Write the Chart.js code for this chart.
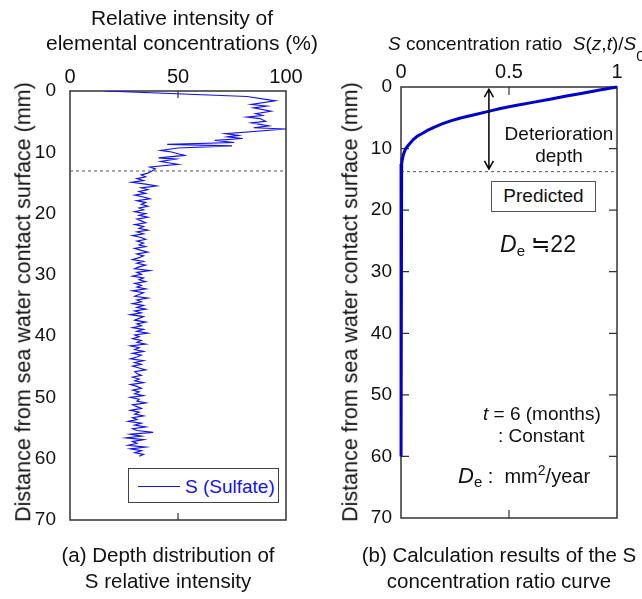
<!DOCTYPE html>
<html>
<head>
<meta charset="utf-8">
<script src="https://cdn.jsdelivr.net/npm/chart.js@4.4.0/dist/chart.umd.min.js"></script>
<style>
body { margin: 0; background: #fff; }
#wrap { position: relative; width: 642px; height: 599px; overflow: hidden;
  font-family: 'Liberation Sans', Arial, sans-serif; color: #111; }
canvas { position: absolute; top: 0; }
.t { position: absolute; line-height: 1; white-space: nowrap; }
.c { transform: translateX(-50%); }
.rot { transform: translate(-50%, -50%) rotate(-90deg); }
</style>
</head>
<body>
<div id="wrap">
  <canvas id="chartA" width="321" height="599" style="left:0"></canvas>
  <canvas id="chartB" width="321" height="599" style="left:321px"></canvas>

  <div class="t c" style="left:182px;top:7px;font-size:21px">Relative intensity of</div>
  <div class="t c" style="left:182px;top:32px;font-size:21px">elemental concentrations (%)</div>
  <div class="t" style="left:388px;top:34px;font-size:19px"><i>S</i> concentration ratio&nbsp;&nbsp;<i>S</i>(<i>z</i>,<i>t</i>)/<i>S</i><span style="font-size:15px;position:relative;top:11px">0</span></div>

  <div class="t rot" style="left:24px;top:302px;font-size:21.5px">Distance from sea water contact surface (mm)</div>
  <div class="t rot" style="left:351px;top:302px;font-size:21.5px">Distance from sea water contact surface (mm)</div>

  <div style="position:absolute;left:128px;top:468px;width:151px;height:35px;box-sizing:border-box;border:1.5px solid #444;background:#fff">
    <div style="position:absolute;left:9px;top:17px;width:42px;height:1.2px;background:#1414f0"></div>
    <div class="t" style="left:56px;top:8px;font-size:19px;color:#1414f0">S (Sulfate)</div>
  </div>

  <div class="t c" style="left:559px;top:124px;font-size:19px">Deterioration</div>
  <div class="t c" style="left:559px;top:146px;font-size:19px">depth</div>
  <div style="position:absolute;left:491px;top:181px;width:105px;height:31px;box-sizing:border-box;border:1.5px solid #555;background:#fff;font-size:19px;line-height:28px;text-align:center">Predicted</div>
  <div class="t" style="left:500px;top:233px;font-size:23px"><i>D</i><span style="font-size:15px;position:relative;top:4px">e</span> ≒22</div>
  <div class="t" style="left:483px;top:404px;font-size:19px"><i>t</i> = 6 (months)</div>
  <div class="t" style="left:498px;top:426px;font-size:19px">: Constant</div>
  <div class="t" style="left:458px;top:463px;font-size:22px"><i>D</i><span style="font-size:15px;position:relative;top:4px">e</span><span style="font-size:20px"> :&nbsp; mm<sup style="font-size:14px">2</sup>/year</span></div>

  <div class="t c" style="left:168px;top:545px;font-size:20.5px">(a) Depth distribution of</div>
  <div class="t c" style="left:168px;top:571px;font-size:20.5px">S relative intensity</div>
  <div class="t c" style="left:499px;top:545px;font-size:20.5px">(b) Calculation results of the S</div>
  <div class="t c" style="left:499px;top:571px;font-size:20.5px">concentration ratio curve</div>
</div>

<script>
// measured S intensity (%) against depth (mm)
var depthS = [
  0, 0.9, 1.6, 2.2, 2.45, 2.75, 3.3, 3.7, 4.0, 4.25, 4.5, 4.95, 5.2, 5.7, 6.0, 6.2,
  6.95, 7.25, 7.5, 7.75, 8.05, 8.4, 8.7, 8.95, 9.3, 9.7, 9.95, 10.5, 10.9, 11.1, 11.5, 11.95, 12.4, 12.7, 13.1,
  13.4, 13.7, 14.0, 14.3, 14.6, 14.9, 15.2, 15.5, 15.8, 16.1,
  16.4, 16.7, 17.0, 17.3, 17.6, 17.9, 18.2, 18.5, 18.8, 19.1,
  19.4, 19.7, 20.0, 20.3, 20.6, 20.9, 21.2, 21.5, 21.8, 22.1,
  22.4, 22.7, 23.0, 23.3, 23.6, 23.9, 24.2, 24.5, 24.8, 25.1,
  25.4, 25.7, 26.0, 26.3, 26.6, 26.9, 27.2, 27.5, 27.8, 28.1,
  28.4, 28.7, 29.0, 29.3, 29.6, 29.9, 30.2, 30.5, 30.8, 31.1,
  31.4, 31.7, 32.0, 32.3, 32.6, 32.9, 33.2, 33.5, 33.8, 34.1,
  34.4, 34.7, 35.0, 35.3, 35.6, 35.9, 36.2, 36.5, 36.8, 37.1,
  37.4, 37.7, 38.0, 38.3, 38.6, 38.9, 39.2, 39.5, 39.8, 40.1,
  40.4, 40.7, 41.0, 41.3, 41.6, 41.9, 42.2, 42.5, 42.8, 43.1,
  43.4, 43.7, 44.0, 44.3, 44.6, 44.9, 45.2, 45.5, 45.8, 46.1,
  46.4, 46.7, 47.0, 47.3, 47.6, 47.9, 48.2, 48.5, 48.8, 49.1,
  49.4, 49.7, 50.0, 50.3, 50.6, 50.9, 51.2, 51.5, 51.8, 52.1,
  52.4, 52.7, 53.0, 53.3, 53.6, 53.9, 54.2, 54.5, 54.8, 55.1,
  55.4, 55.7, 56.0, 56.3, 56.6, 56.9, 57.2, 57.5, 57.8, 58.1,
  58.4, 58.7, 59.0, 59.3, 59.6
];
var intensityS = [
  16, 82, 95, 84, 91, 85, 93, 86, 89, 82, 88, 90.5, 84, 92, 85, 100,
  72, 78, 73, 80, 67, 76, 45, 75, 50, 42, 47, 53, 41, 49, 42, 50, 37, 39.5, 37.8,
  36, 33, 35, 31, 34, 28.5, 35, 40, 33, 36,
  32, 35, 30, 34, 37, 31, 35, 33, 36, 32,
  34, 30, 35, 32, 36, 31, 33, 35, 30, 34,
  32, 36, 31, 34, 29, 33, 35, 31, 34, 32,
  35, 30, 33, 36, 31, 34, 32, 29, 34, 31,
  35, 32, 30, 37, 31, 33, 29, 34, 32, 35,
  30, 33, 31, 35, 29, 34, 32, 30, 36, 31,
  33, 29, 34, 31, 35, 30, 33, 28, 34, 32,
  30, 35, 31, 33, 29, 34, 31, 36, 30, 32,
  29, 33, 31, 35, 28, 32, 30, 34, 29, 33,
  31, 28, 34, 30, 33, 29, 32, 35, 30, 31,
  33, 29, 32, 30, 34, 28, 31, 33, 29, 32,
  30, 34, 28, 32, 31, 35, 29, 31, 33, 28,
  32, 30, 34, 29, 31, 27, 33, 30, 35, 29,
  31, 38.5, 28, 33, 26, 34, 29, 31, 27, 35,
  28, 33, 30, 34, 32
];

// calculated S(z,t)/S0 against depth (mm)
var depthCalc = [0, 0.5, 1.0, 1.5, 2.0, 2.5, 3.0, 3.5, 4.0, 4.5, 5.0, 5.5, 6.0, 6.5, 7.0, 7.5,
  8.0, 8.5, 9.0, 9.5, 10.0, 10.5, 11.0, 11.5, 12.0, 12.5, 13.0, 13.3, 20, 30, 40, 50, 60];
var ratioCalc = [1.0, 0.92, 0.84, 0.76, 0.69, 0.61, 0.53, 0.46, 0.40, 0.34, 0.28, 0.23, 0.19, 0.155, 0.125, 0.10,
  0.075, 0.058, 0.045, 0.033, 0.022, 0.016, 0.011, 0.008, 0.005, 0.003, 0.002, 0, 0, 0, 0, 0, 0];

var depthTicks = [0, 10, 20, 30, 40, 50, 60, 70];
var intensityTicks = [0, 50, 100];
var ratioTicks = [0, 0.5, 1];

var dashDepthA = 13.05;
var dashDepthB = 13.75;
var arrowRatio = 0.407;
var arrowDepth = [0.35, 13.3];

Chart.defaults.font.family = "'Liberation Sans', Arial, sans-serif";
Chart.defaults.font.size = 19;
Chart.defaults.color = '#111';

function pairs(xs, ys) {
  return ys.map(function(d, i) { return {x: xs[i], y: d}; });
}

// box round the plot + small inward tick marks
var framePlugin = {
  id: 'frame',
  beforeDatasetsDraw: function(chart, args, opts) {
    var ctx = chart.ctx, a = chart.chartArea;
    var x = chart.scales.x, y = chart.scales.y;
    ctx.save();
    ctx.strokeStyle = '#333';
    ctx.lineWidth = 1.5;
    ctx.strokeRect(a.left, a.top, a.right - a.left, a.bottom - a.top);
    ctx.lineWidth = 1.2;
    ctx.beginPath();
    (opts.xMarks || []).forEach(function(v) {
      var px = x.getPixelForValue(v);
      ctx.moveTo(px, a.top); ctx.lineTo(px, a.top + opts.len);
      ctx.moveTo(px, a.bottom); ctx.lineTo(px, a.bottom - opts.len);
    });
    (opts.yMarks || []).forEach(function(v) {
      var py = y.getPixelForValue(v);
      ctx.moveTo(a.left, py); ctx.lineTo(a.left + opts.len, py);
      ctx.moveTo(a.right, py); ctx.lineTo(a.right - opts.len, py);
    });
    ctx.stroke();
    ctx.restore();
  }
};

var arrowPlugin = {
  id: 'depthArrow',
  afterDatasetsDraw: function(chart, args, opts) {
    if (!opts.show) return;
    var ctx = chart.ctx;
    var px = chart.scales.x.getPixelForValue(arrowRatio);
    var y1 = chart.scales.y.getPixelForValue(arrowDepth[0]);
    var y2 = chart.scales.y.getPixelForValue(arrowDepth[1]);
    ctx.save();
    ctx.strokeStyle = '#000';
    ctx.lineWidth = 1.5;
    ctx.beginPath();
    ctx.moveTo(px, y1); ctx.lineTo(px, y2);
    ctx.moveTo(px - 4.5, y1 + 8); ctx.lineTo(px, y1); ctx.lineTo(px + 4.5, y1 + 8);
    ctx.moveTo(px - 4.5, y2 - 8); ctx.lineTo(px, y2); ctx.lineTo(px + 4.5, y2 - 8);
    ctx.stroke();
    ctx.restore();
  }
};

function depthAxis(pad) {
  return {
    type: 'linear',
    reverse: true,
    min: 0,
    max: 70,
    afterBuildTicks: function(s) { s.ticks = depthTicks.map(function(v) { return {value: v}; }); },
    afterFit: function(s) { s.width = 40; },
    grid: { display: false, drawTicks: false },
    border: { display: false },
    ticks: { padding: pad, callback: function(v) { return String(v); } }
  };
}

function topAxis(max, ticks, pad) {
  return {
    type: 'linear',
    position: 'top',
    min: 0,
    max: max,
    afterBuildTicks: function(s) { s.ticks = ticks.map(function(v) { return {value: v}; }); },
    afterFit: function(s) { s.height = 30; },
    grid: { display: false, drawTicks: false },
    border: { display: false },
    ticks: { padding: pad, maxRotation: 0, font: { size: 20 }, callback: function(v) { return String(v); } }
  };
}

new Chart(document.getElementById('chartA'), {
  type: 'scatter',
  plugins: [framePlugin],
  data: {
    datasets: [
      {
        label: 'S (Sulfate)',
        data: pairs(intensityS, depthS),
        showLine: true,
        borderColor: '#1414f0',
        borderWidth: 1.2,
        pointRadius: 0,
        tension: 0
      },
      {
        label: 'limit',
        data: [{x: 0, y: dashDepthA}, {x: 100, y: dashDepthA}],
        showLine: true,
        borderColor: '#555',
        borderWidth: 1,
        borderDash: [3, 3],
        pointRadius: 0
      }
    ]
  },
  options: {
    responsive: false,
    animation: false,
    events: [],
    layout: { padding: { left: 30, right: 35, top: 61, bottom: 79 } },
    scales: {
      x: topAxis(100, intensityTicks, 2),
      y: depthAxis(14)
    },
    plugins: {
      legend: { display: false },
      tooltip: { enabled: false },
      frame: { xMarks: [50], yMarks: [], len: 7 }
    }
  }
});

new Chart(document.getElementById('chartB'), {
  type: 'scatter',
  plugins: [framePlugin, arrowPlugin],
  data: {
    datasets: [
      {
        label: 'Predicted',
        data: pairs(ratioCalc, depthCalc),
        showLine: true,
        borderColor: '#0000cc',
        borderWidth: 3,
        pointRadius: 0,
        tension: 0,
        clip: false
      },
      {
        label: 'limit',
        data: [{x: 0, y: dashDepthB}, {x: 1, y: dashDepthB}],
        showLine: true,
        borderColor: '#555',
        borderWidth: 1,
        borderDash: [3, 3],
        pointRadius: 0
      }
    ]
  },
  options: {
    responsive: false,
    animation: false,
    events: [],
    layout: { padding: { left: 40, right: 25, top: 57, bottom: 81 } },
    scales: {
      x: topAxis(1, ratioTicks, 3),
      y: depthAxis(9)
    },
    plugins: {
      legend: { display: false },
      tooltip: { enabled: false },
      frame: { xMarks: [0.5], yMarks: [10, 20, 30, 40, 50, 60], len: 8 },
      depthArrow: { show: true }
    }
  }
});
</script>
</body>
</html>
